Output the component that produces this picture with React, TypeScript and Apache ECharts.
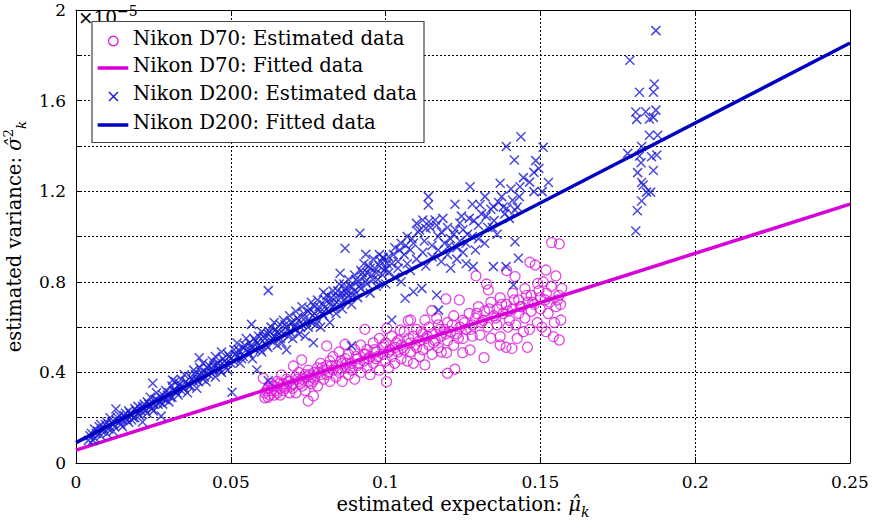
import React, { useEffect, useRef } from "react";
import * as echarts from "echarts";

const xTickLabels = ["0", "0.05", "0.1", "0.15", "0.2", "0.25"];
const yTickLabels = ["0", "0.4", "0.8", "1.2", "1.6", "2"];
const yExponentLabel = "−5";

const seriesNames = [
  "Nikon D70: Estimated data",
  "Nikon D70: Fitted data",
  "Nikon D200: Estimated data",
  "Nikon D200: Fitted data",
];

// y values in units of 10^-5
const d70Fitted = [[0, 0.057], [0.25, 1.143]];
const d200Fitted = [[0, 0.09], [0.25, 1.854]];

const d70Estimated = [
  [0.0605, 0.374], [0.061, 0.288], [0.061, 0.31], [0.062, 0.33], [0.062, 0.29], [0.063, 0.32], [0.063, 0.35],
  [0.064, 0.30], [0.064, 0.34], [0.065, 0.31], [0.065, 0.36], [0.0664, 0.389], [0.066, 0.33], [0.066, 0.30],
  [0.067, 0.35], [0.067, 0.32], [0.068, 0.37], [0.068, 0.34], [0.069, 0.31], [0.069, 0.36], [0.0702, 0.428],
  [0.070, 0.35], [0.070, 0.33], [0.071, 0.38], [0.071, 0.31], [0.072, 0.36], [0.072, 0.40], [0.0729, 0.455],
  [0.073, 0.34], [0.073, 0.37], [0.074, 0.39], [0.074, 0.32], [0.075, 0.274], [0.075, 0.36], [0.075, 0.41],
  [0.076, 0.38], [0.076, 0.35], [0.0767, 0.296], [0.077, 0.40], [0.077, 0.37], [0.078, 0.42], [0.078, 0.34],
  [0.079, 0.39], [0.079, 0.44], [0.080, 0.37], [0.080, 0.41],
  [0.081, 0.517], [0.081, 0.39], [0.081, 0.43], [0.082, 0.36], [0.082, 0.45], [0.083, 0.41], [0.083, 0.47],
  [0.084, 0.38], [0.084, 0.43], [0.085, 0.49], [0.085, 0.40], [0.086, 0.44], [0.086, 0.36], [0.0869, 0.524],
  [0.087, 0.42], [0.087, 0.46], [0.088, 0.39], [0.088, 0.48], [0.089, 0.44], [0.089, 0.41], [0.090, 0.50],
  [0.090, 0.37], [0.091, 0.46], [0.091, 0.43], [0.092, 0.40], [0.092, 0.52], [0.0933, 0.590], [0.093, 0.45],
  [0.093, 0.48], [0.094, 0.42], [0.094, 0.50], [0.095, 0.47], [0.095, 0.39], [0.096, 0.53], [0.096, 0.44],
  [0.097, 0.49], [0.097, 0.46], [0.098, 0.41], [0.098, 0.55], [0.099, 0.48], [0.099, 0.51], [0.1003, 0.359],
  [0.1004, 0.595], [0.100, 0.45], [0.100, 0.53],
  [0.101, 0.49], [0.101, 0.42], [0.102, 0.56], [0.102, 0.47], [0.103, 0.51], [0.103, 0.44], [0.104, 0.54],
  [0.1047, 0.587], [0.104, 0.49], [0.105, 0.46], [0.105, 0.52], [0.106, 0.58], [0.106, 0.50], [0.1073, 0.628],
  [0.107, 0.45], [0.108, 0.53], [0.1081, 0.631], [0.108, 0.49], [0.109, 0.440], [0.109, 0.56], [0.110, 0.51],
  [0.110, 0.59], [0.111, 0.47], [0.111, 0.54], [0.112, 0.57], [0.112, 0.50], [0.1127, 0.433], [0.1127, 0.631],
  [0.113, 0.55], [0.114, 0.52], [0.114, 0.60], [0.1149, 0.672], [0.115, 0.48], [0.115, 0.57], [0.1165, 0.639],
  [0.116, 0.54], [0.117, 0.51], [0.117, 0.61], [0.118, 0.56], [0.118, 0.49], [0.119, 0.59], [0.1195, 0.724],
  [0.1197, 0.487], [0.120, 0.396], [0.120, 0.54], [0.120, 0.62], [0.121, 0.58], [0.122, 0.52], [0.122, 0.65],
  [0.1224, 0.414], [0.123, 0.57], [0.1238, 0.720], [0.124, 0.60], [0.1249, 0.487], [0.125, 0.55], [0.125, 0.63],
  [0.126, 0.59], [0.127, 0.66], [0.1273, 0.499], [0.128, 0.61], [0.128, 0.56], [0.1292, 0.826], [0.129, 0.64],
  [0.130, 0.69], [0.1305, 0.565], [0.131, 0.62], [0.1318, 0.465], [0.132, 0.67], [0.1326, 0.790], [0.1332, 0.764],
  [0.133, 0.60], [0.134, 0.551], [0.134, 0.71], [0.135, 0.65], [0.136, 0.68], [0.136, 0.61], [0.137, 0.521],
  [0.137, 0.558], [0.137, 0.73], [0.138, 0.66], [0.1389, 0.511], [0.1391, 0.849], [0.139, 0.70], [0.140, 0.63],
  [0.1408, 0.506], [0.141, 0.75], [0.141, 0.68], [0.1418, 0.823], [0.142, 0.61], [0.143, 0.72], [0.143, 0.66],
  [0.144, 0.69], [0.145, 0.77], [0.145, 0.64], [0.1458, 0.511], [0.146, 0.71], [0.1466, 0.886], [0.147, 0.74],
  [0.147, 0.67], [0.1483, 0.874], [0.148, 0.70], [0.1491, 0.793], [0.149, 0.62], [0.1509, 0.800], [0.150, 0.73],
  [0.150, 0.68], [0.1518, 0.852], [0.1518, 0.580], [0.152, 0.75], [0.1536, 0.973], [0.153, 0.71], [0.1542, 0.558],
  [0.155, 0.826], [0.155, 0.69], [0.1561, 0.967], [0.1561, 0.543], [0.156, 0.74], [0.1566, 0.631], [0.1569, 0.771],
  [0.0615, 0.32], [0.0625, 0.30], [0.0635, 0.34], [0.0645, 0.32], [0.0655, 0.35], [0.0675, 0.33], [0.0685, 0.36],
  [0.0695, 0.34], [0.0715, 0.37], [0.0725, 0.35], [0.0745, 0.38], [0.0755, 0.39], [0.0765, 0.36], [0.0785, 0.40],
  [0.0795, 0.42], [0.0815, 0.40], [0.0825, 0.43], [0.0845, 0.41], [0.0855, 0.45], [0.0875, 0.44], [0.0885, 0.42],
  [0.0905, 0.47], [0.0915, 0.44], [0.0935, 0.48], [0.0945, 0.46], [0.0965, 0.50], [0.0975, 0.47], [0.0995, 0.52],
  [0.1015, 0.50], [0.1035, 0.53], [0.1055, 0.51], [0.1075, 0.55], [0.1095, 0.52], [0.1115, 0.58], [0.1135, 0.56],
  [0.1155, 0.53], [0.1175, 0.59], [0.1195, 0.57], [0.1215, 0.61], [0.1235, 0.55], [0.1255, 0.62], [0.1275, 0.59],
  [0.1295, 0.66], [0.1315, 0.63], [0.1335, 0.68], [0.1355, 0.64], [0.1375, 0.70], [0.1395, 0.67], [0.1415, 0.72],
  [0.1435, 0.69], [0.1455, 0.74], [0.1475, 0.71], [0.1495, 0.76], [0.1515, 0.72], [0.1535, 0.78], [0.1555, 0.72],
  [0.1565, 0.70], [0.1545, 0.62], [0.1525, 0.66], [0.1505, 0.60], [0.1465, 0.59], [0.1445, 0.58], [0.1425, 0.55],
  [0.1395, 0.60],
];

const d200Estimated = [
  [0.004, 0.10], [0.005, 0.13], [0.006, 0.11], [0.006, 0.15], [0.007, 0.14], [0.008, 0.12], [0.008, 0.17],
  [0.009, 0.15], [0.010, 0.13], [0.010, 0.18], [0.011, 0.16], [0.011, 0.20], [0.012, 0.17], [0.012, 0.14],
  [0.013, 0.19], [0.0129, 0.238], [0.014, 0.18], [0.014, 0.21], [0.015, 0.19], [0.015, 0.16], [0.016, 0.22],
  [0.016, 0.20], [0.017, 0.18], [0.017, 0.23], [0.018, 0.21], [0.018, 0.19], [0.019, 0.24], [0.019, 0.20],
  [0.020, 0.22], [0.020, 0.25], [0.021, 0.23], [0.0215, 0.181], [0.022, 0.26], [0.022, 0.24], [0.023, 0.22],
  [0.023, 0.27], [0.024, 0.25], [0.024, 0.29], [0.0248, 0.352], [0.025, 0.26], [0.025, 0.23], [0.026, 0.28],
  [0.026, 0.31], [0.027, 0.27], [0.0275, 0.207], [0.028, 0.30], [0.028, 0.26], [0.029, 0.32], [0.029, 0.28],
  [0.030, 0.31], [0.030, 0.27], [0.031, 0.34], [0.0312, 0.366], [0.031, 0.29], [0.032, 0.32], [0.032, 0.36],
  [0.033, 0.30], [0.033, 0.34], [0.034, 0.37], [0.034, 0.32], [0.035, 0.33], [0.035, 0.39], [0.036, 0.35],
  [0.036, 0.31], [0.037, 0.38], [0.037, 0.34], [0.038, 0.41], [0.038, 0.36], [0.039, 0.37], [0.039, 0.33],
  [0.0398, 0.465], [0.040, 0.39], [0.040, 0.42], [0.041, 0.37], [0.041, 0.44], [0.042, 0.40], [0.042, 0.36],
  [0.043, 0.43], [0.043, 0.39], [0.044, 0.45], [0.044, 0.41], [0.045, 0.38], [0.045, 0.47], [0.046, 0.42],
  [0.046, 0.44], [0.047, 0.49], [0.047, 0.40], [0.048, 0.45], [0.048, 0.43], [0.049, 0.48], [0.049, 0.41],
  [0.050, 0.46], [0.050, 0.44], [0.0504, 0.312], [0.051, 0.50], [0.051, 0.45], [0.052, 0.47], [0.052, 0.53],
  [0.053, 0.49], [0.053, 0.44], [0.054, 0.51], [0.054, 0.47], [0.055, 0.55], [0.055, 0.50], [0.056, 0.48],
  [0.056, 0.53], [0.0567, 0.612], [0.057, 0.51], [0.057, 0.46], [0.058, 0.54], [0.0584, 0.411], [0.058, 0.50],
  [0.059, 0.56], [0.059, 0.52], [0.060, 0.49], [0.060, 0.58], [0.061, 0.53], [0.061, 0.55], [0.0621, 0.363],
  [0.0621, 0.761], [0.062, 0.57], [0.062, 0.51], [0.063, 0.60], [0.063, 0.54], [0.064, 0.56], [0.064, 0.62],
  [0.065, 0.52], [0.065, 0.58], [0.066, 0.61], [0.066, 0.55], [0.067, 0.63], [0.067, 0.57], [0.068, 0.50],
  [0.068, 0.60], [0.069, 0.65], [0.069, 0.58], [0.070, 0.62], [0.070, 0.55], [0.071, 0.67], [0.071, 0.59],
  [0.072, 0.63], [0.072, 0.57], [0.073, 0.61], [0.073, 0.69], [0.074, 0.64], [0.074, 0.56], [0.075, 0.67],
  [0.075, 0.60], [0.076, 0.71], [0.076, 0.62], [0.0767, 0.531], [0.077, 0.66], [0.077, 0.69], [0.078, 0.63],
  [0.078, 0.72], [0.079, 0.67], [0.079, 0.60], [0.0799, 0.754], [0.080, 0.70], [0.080, 0.65], [0.081, 0.74],
  [0.081, 0.68], [0.082, 0.62], [0.082, 0.71], [0.083, 0.76], [0.083, 0.69], [0.084, 0.73], [0.084, 0.66],
  [0.085, 0.79], [0.0853, 0.838], [0.085, 0.70], [0.086, 0.75], [0.086, 0.68], [0.0869, 0.948], [0.087, 0.77],
  [0.087, 0.72], [0.088, 0.81], [0.088, 0.74], [0.089, 0.517], [0.089, 0.78], [0.089, 0.70], [0.090, 0.83],
  [0.090, 0.76], [0.091, 0.80], [0.091, 0.73], [0.0917, 1.014], [0.092, 0.85], [0.092, 0.77], [0.093, 0.82],
  [0.093, 0.88], [0.0936, 0.921], [0.094, 0.79], [0.094, 0.84], [0.095, 0.86], [0.095, 0.75], [0.096, 0.81],
  [0.096, 0.90], [0.097, 0.84], [0.097, 0.78], [0.098, 0.87], [0.098, 0.92], [0.0991, 0.908], [0.0993, 0.904],
  [0.099, 0.83], [0.100, 0.86], [0.100, 0.79], [0.101, 0.91], [0.101, 0.84], [0.102, 0.631], [0.102, 0.88],
  [0.103, 0.95], [0.103, 0.82], [0.104, 0.89], [0.104, 0.86], [0.105, 0.97], [0.105, 0.80], [0.1063, 0.727],
  [0.106, 0.92], [0.107, 0.88], [0.107, 1.00], [0.108, 0.94], [0.108, 0.85], [0.109, 0.756], [0.109, 0.97],
  [0.110, 1.058], [0.110, 0.90], [0.111, 1.029], [0.1117, 0.771], [0.112, 1.073], [0.112, 0.93], [0.113, 1.036],
  [0.113, 0.87], [0.114, 1.065], [0.1138, 1.176], [0.1138, 1.139], [0.115, 0.96], [0.115, 0.91], [0.116, 1.073],
  [0.1165, 0.742], [0.1171, 0.675], [0.117, 1.00], [0.117, 0.94], [0.118, 1.02], [0.118, 0.89], [0.119, 0.97],
  [0.120, 1.04], [0.120, 0.92], [0.121, 0.99], [0.121, 0.86], [0.122, 1.01], [0.1224, 1.142], [0.123, 0.95],
  [0.123, 0.90], [0.124, 1.06], [0.124, 0.98], [0.125, 0.93], [0.125, 1.03], [0.126, 0.88], [0.126, 0.97],
  [0.127, 1.08], [0.1273, 1.22], [0.128, 1.142], [0.1283, 0.867], [0.128, 1.00], [0.129, 0.94], [0.130, 1.05],
  [0.130, 0.99], [0.1321, 1.176], [0.131, 1.10], [0.132, 0.97], [0.133, 1.04], [0.134, 1.12], [0.1348, 1.132],
  [0.1348, 0.867], [0.135, 1.07], [0.136, 1.01], [0.137, 1.235], [0.1375, 1.176], [0.138, 1.13], [0.1389, 0.867],
  [0.139, 1.397], [0.1391, 1.124], [0.140, 1.08], [0.141, 1.16], [0.1413, 0.786], [0.1416, 1.338], [0.1418, 1.117],
  [0.1418, 0.977], [0.1429, 0.904], [0.1432, 1.176], [0.1434, 1.22], [0.1437, 1.44], [0.1479, 1.283],
  [0.1479, 1.198], [0.1485, 1.335], [0.1506, 1.198], [0.1509, 1.394], [0.1526, 1.238],
  [0.0045, 0.12], [0.0055, 0.10], [0.0065, 0.13], [0.0075, 0.16], [0.0085, 0.14], [0.0095, 0.17], [0.0105, 0.15],
  [0.0115, 0.18], [0.0125, 0.16], [0.0135, 0.20], [0.0145, 0.17], [0.0155, 0.21], [0.0165, 0.19], [0.0175, 0.22],
  [0.0185, 0.20], [0.0195, 0.23], [0.0205, 0.21], [0.0215, 0.25], [0.0225, 0.23], [0.0235, 0.26], [0.0245, 0.24],
  [0.0255, 0.28], [0.0265, 0.26], [0.0275, 0.29], [0.0285, 0.28], [0.0295, 0.30], [0.0305, 0.29], [0.0315, 0.32],
  [0.0325, 0.31], [0.0335, 0.35], [0.0345, 0.33], [0.0355, 0.36], [0.0365, 0.34], [0.0375, 0.37], [0.0385, 0.39],
  [0.0395, 0.36], [0.0405, 0.40], [0.0415, 0.38], [0.0425, 0.42], [0.0435, 0.40], [0.0445, 0.43], [0.0455, 0.44],
  [0.0465, 0.41], [0.0475, 0.46], [0.0485, 0.44], [0.0495, 0.47], [0.0515, 0.48], [0.0525, 0.50], [0.0535, 0.46],
  [0.0545, 0.52], [0.0555, 0.49], [0.0565, 0.51], [0.0575, 0.55], [0.0585, 0.53], [0.0595, 0.50], [0.0605, 0.56],
  [0.0615, 0.52], [0.0625, 0.58], [0.0635, 0.55], [0.0645, 0.59], [0.0655, 0.57], [0.0665, 0.53], [0.0675, 0.61],
  [0.0685, 0.56], [0.0695, 0.62], [0.0705, 0.60], [0.0715, 0.64], [0.0725, 0.60], [0.0735, 0.66], [0.0745, 0.62],
  [0.0755, 0.68], [0.0765, 0.65], [0.0775, 0.61], [0.0785, 0.69], [0.0795, 0.66], [0.0805, 0.72], [0.0815, 0.67],
  [0.0825, 0.73], [0.0835, 0.70], [0.0845, 0.76], [0.0855, 0.73], [0.0865, 0.79], [0.0875, 0.75], [0.0885, 0.78],
  [0.0895, 0.74], [0.0905, 0.81], [0.0915, 0.78], [0.0925, 0.84], [0.0935, 0.80], [0.0945, 0.87], [0.0955, 0.83],
  [0.0965, 0.86], [0.0975, 0.81], [0.0985, 0.89], [0.0995, 0.85], [0.1005, 0.88], [0.1025, 0.92], [0.1045, 0.94],
  [0.1065, 0.96], [0.1085, 0.99], [0.1105, 1.02], [0.1125, 0.98], [0.1145, 1.04], [0.1165, 1.05], [0.1185, 1.08],
  [0.1205, 0.96], [0.1225, 1.03], [0.1245, 1.09], [0.1265, 1.01], [0.1285, 1.07], [0.1305, 1.14], [0.1325, 1.09],
  [0.1345, 1.04], [0.1365, 1.15], [0.1385, 1.10], [0.1405, 1.21], [0.1425, 1.13], [0.1445, 1.26], [0.1465, 1.24],
  [0.1495, 1.30],
  [0.1873, 1.909], [0.1789, 1.778], [0.1868, 1.673], [0.1820, 1.637], [0.1865, 1.637], [0.1808, 1.550],
  [0.1840, 1.551], [0.1873, 1.558], [0.1811, 1.517], [0.1852, 1.519], [0.1865, 1.526], [0.1852, 1.447],
  [0.1879, 1.447], [0.1827, 1.397], [0.1782, 1.367], [0.1820, 1.355], [0.1859, 1.352], [0.1876, 1.360],
  [0.1825, 1.326], [0.1827, 1.238], [0.1814, 1.282], [0.1865, 1.291], [0.1832, 1.227], [0.1843, 1.196],
  [0.1856, 1.196], [0.1827, 1.157], [0.1813, 1.114], [0.1808, 1.024],
];

const FONT = "DejaVu Serif";
const MAGENTA_LINE = "#d800d8";
const MAGENTA_MARK = "#dc1adc";
const BLUE_LINE = "#0000c0";
const BLUE_MARK = "#1c1cd4";
const CROSS = "path://M0,0L10,10M10,0L0,10";

export default function App() {
  const ref = useRef<HTMLDivElement>(null);
  useEffect(() => {
    if (!ref.current) return;
    const chart = echarts.init(ref.current, null, { renderer: "svg" });
    const xLabel = (v: number) => {
      const i = Math.round(v / 0.05);
      return Math.abs(v - i * 0.05) < 1e-9 ? xTickLabels[i] ?? "" : "";
    };
    const yLabel = (v: number) => {
      const hit = yTickLabels.find((t) => Math.abs(parseFloat(t) - v) < 1e-6);
      return hit ?? "";
    };
    const legendRows = [41, 68, 96.5, 125];
    const legendText = seriesNames.map((n, i) => ({
      type: "text",
      z: 101,
      style: {
        x: 133,
        y: legendRows[i] - 3,
        text: n,
        font: `19.7px '${FONT}'`,
        fill: "#000",
        verticalAlign: "middle",
        align: "left",
      },
    }));
    chart.setOption({
      animation: false,
      backgroundColor: "#fff",
      grid: { left: 76, right: 22, top: 10, bottom: 57, containLabel: false, outerBoundsMode: "none" },
      xAxis: [
        {
          type: "value",
          min: 0,
          max: 0.25,
          interval: 0.05,
          position: "bottom",
          axisLine: { show: true, onZero: false, lineStyle: { color: "#000", width: 1 } },
          axisTick: { show: true, inside: true, length: 6, lineStyle: { color: "#000" } },
          axisLabel: { formatter: xLabel, color: "#000", fontFamily: FONT, fontSize: 17, margin: 10 },
          splitLine: { show: true, lineStyle: { color: "#000", type: [2, 2], width: 1 } },
          name: "{t|estimated expectation: }{m|μ̂}{s|k}",
          nameLocation: "middle",
          nameGap: 27,
          nameTextStyle: {
            rich: {
              t: { fontFamily: FONT, fontSize: 19.5, color: "#000", lineHeight: 28 },
              m: { fontFamily: FONT, fontSize: 19.5, fontStyle: "italic", color: "#000", lineHeight: 28 },
              s: { fontFamily: FONT, fontSize: 14, fontStyle: "italic", color: "#000", lineHeight: 28, verticalAlign: "bottom" },
            },
          },
        },
        {
          type: "value",
          min: 0,
          max: 0.25,
          interval: 0.05,
          position: "top",
          axisLine: { show: true, onZero: false, lineStyle: { color: "#000", width: 1 } },
          axisTick: { show: true, inside: true, length: 6, lineStyle: { color: "#000" } },
          axisLabel: { show: false },
          splitLine: { show: false },
        },
      ],
      yAxis: [
        {
          type: "value",
          min: 0,
          max: 2,
          interval: 0.2,
          position: "left",
          axisLine: { show: true, onZero: false, lineStyle: { color: "#000", width: 1 } },
          axisTick: { show: true, inside: true, length: 6, lineStyle: { color: "#000" } },
          axisLabel: { formatter: yLabel, color: "#000", fontFamily: FONT, fontSize: 17, margin: 10 },
          splitLine: { show: true, lineStyle: { color: "#000", type: [2, 2], width: 1 } },
          name: "{t|estimated variance: }{m|σ̂}{p|2}{s|k}",
          nameLocation: "middle",
          nameGap: 30,
          nameTextStyle: {
            rich: {
              t: { fontFamily: FONT, fontSize: 19.5, color: "#000", lineHeight: 27 },
              m: { fontFamily: FONT, fontSize: 19.5, fontStyle: "italic", color: "#000", lineHeight: 27 },
              p: { fontFamily: FONT, fontSize: 13.5, color: "#000", lineHeight: 27, verticalAlign: "top" },
              s: { fontFamily: FONT, fontSize: 13.5, fontStyle: "italic", color: "#000", lineHeight: 27, verticalAlign: "bottom" },
            },
          },
        },
        {
          type: "value",
          min: 0,
          max: 2,
          interval: 0.2,
          position: "right",
          axisLine: { show: true, onZero: false, lineStyle: { color: "#000", width: 1 } },
          axisTick: { show: true, inside: true, length: 6, lineStyle: { color: "#000" } },
          axisLabel: { show: false },
          splitLine: { show: false },
        },
      ],
      series: [
        {
          name: seriesNames[0],
          type: "scatter",
          data: d70Estimated,
          symbol: "circle",
          symbolSize: 10,
          itemStyle: { color: "rgba(0,0,0,0)", borderColor: MAGENTA_MARK, borderWidth: 1.3 },
          z: 2,
        },
        {
          name: seriesNames[1],
          type: "line",
          data: d70Fitted,
          symbol: "none",
          lineStyle: { color: MAGENTA_LINE, width: 3.5 },
          z: 3,
        },
        {
          name: seriesNames[2],
          type: "scatter",
          data: d200Estimated,
          symbol: CROSS,
          symbolSize: 9,
          itemStyle: { color: "none", borderColor: BLUE_MARK, borderWidth: 1.5 },
          z: 4,
        },
        {
          name: seriesNames[3],
          type: "line",
          data: d200Fitted,
          symbol: "none",
          lineStyle: { color: BLUE_LINE, width: 3.5 },
          z: 5,
        },
      ],
      graphic: [
        {
          type: "text",
          z: 50,
          style: {
            x: 78,
            y: 17,
            text: "{a|×10}{b|" + yExponentLabel + "}",
            verticalAlign: "middle",
            rich: {
              a: { fontFamily: FONT, fontSize: 18.5, fill: "#000", color: "#000", lineHeight: 20 },
              b: { fontFamily: FONT, fontSize: 14, fill: "#000", color: "#000", lineHeight: 20, padding: [0, 0, 13, 0] },
            },
          },
        },
        {
          type: "rect",
          z: 100,
          shape: { x: 92, y: 21.5, width: 332, height: 121 },
          style: { fill: "#fff", stroke: "#444", lineWidth: 1.2 },
        },
        {
          type: "circle",
          z: 101,
          shape: { cx: 113.3, cy: legendRows[0], r: 4.8 },
          style: { fill: "none", stroke: MAGENTA_MARK, lineWidth: 1.3 },
        },
        {
          type: "line",
          z: 101,
          shape: { x1: 97.7, y1: legendRows[1], x2: 128.3, y2: legendRows[1] },
          style: { stroke: MAGENTA_LINE, lineWidth: 3.5 },
        },
        {
          type: "line",
          z: 101,
          shape: { x1: 109, y1: legendRows[2] - 4.5, x2: 118, y2: legendRows[2] + 4.5 },
          style: { stroke: BLUE_MARK, lineWidth: 1.5 },
        },
        {
          type: "line",
          z: 101,
          shape: { x1: 118, y1: legendRows[2] - 4.5, x2: 109, y2: legendRows[2] + 4.5 },
          style: { stroke: BLUE_MARK, lineWidth: 1.5 },
        },
        {
          type: "line",
          z: 101,
          shape: { x1: 97.7, y1: legendRows[3], x2: 128.3, y2: legendRows[3] },
          style: { stroke: BLUE_LINE, lineWidth: 3.5 },
        },
        ...legendText,
      ],
    });
    return () => chart.dispose();
  }, []);
  return (
    <div
      ref={ref}
      style={{ position: "absolute", left: 0, top: 0, width: "872px", height: "520px" }}
    />
  );
}
